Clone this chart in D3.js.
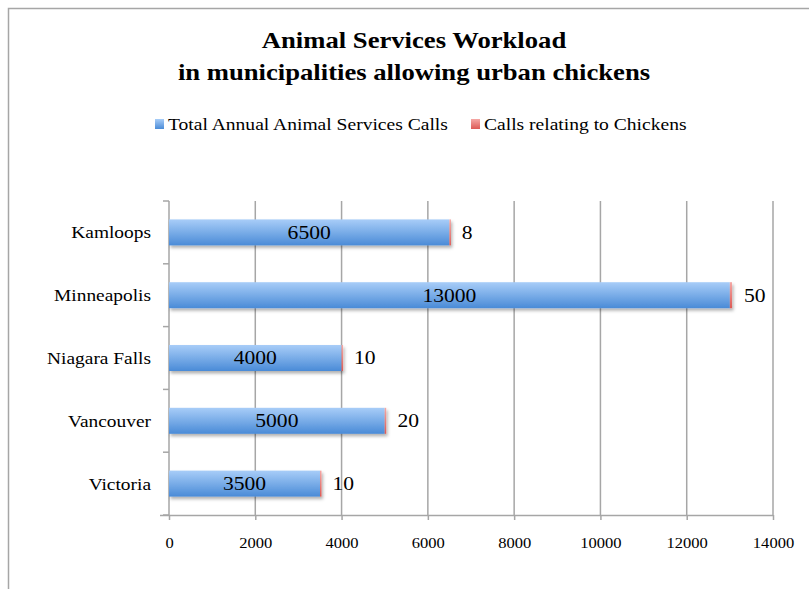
<!DOCTYPE html>
<html><head><meta charset="utf-8">
<script src="https://cdn.jsdelivr.net/npm/d3@7"></script>
<style>
html,body{margin:0;padding:0;background:#fff;}
svg{display:block;}
</style></head>
<body>
<script>
const categories = ["Kamloops","Minneapolis","Niagara Falls","Vancouver","Victoria"];
const totalCalls = [6500,13000,4000,5000,3500];
const chickenCalls = [8,50,10,20,10];
const xTicks = [0,2000,4000,6000,8000,10000,12000,14000];
const seriesNames = ["Total Annual Animal Services Calls","Calls relating to Chickens"];
const titleLines = ["Animal Services Workload","in municipalities allowing urban chickens"];

const W=809,H=589;
const svg=d3.select("body").append("svg").attr("width",W).attr("height",H);
const defs=svg.append("defs");
const gb=defs.append("linearGradient").attr("id","gBlue").attr("x1",0).attr("y1",0).attr("x2",0).attr("y2",1);
gb.append("stop").attr("offset","0%").attr("stop-color","#a8cdf8");
gb.append("stop").attr("offset","100%").attr("stop-color","#4a8bd7");
const gr=defs.append("linearGradient").attr("id","gRed").attr("x1",0).attr("y1",0).attr("x2",0).attr("y2",1);
gr.append("stop").attr("offset","0%").attr("stop-color","#f5a8a5");
gr.append("stop").attr("offset","100%").attr("stop-color","#dd5a55");
const f=defs.append("filter").attr("id","shadow").attr("x","-10%").attr("y","-30%").attr("width","130%").attr("height","180%");
f.append("feDropShadow").attr("dx",1.5).attr("dy",2.5).attr("stdDeviation",1.8).attr("flood-color","#000").attr("flood-opacity",0.3);

// stretch text horizontally to mimic the wider original face
function stretch(sel,k){
  sel.each(function(){
    const w=this.getComputedTextLength();
    d3.select(this).attr("textLength",w*k).attr("lengthAdjust","spacingAndGlyphs");
  });
}

// frame
svg.append("path").attr("d",`M8.5,${H} V8.5 H${W}`).attr("fill","none").attr("stroke","#a6a6a6").attr("stroke-width",1.5);

const serif="'Liberation Serif', 'DejaVu Serif', serif";

// title
const tt=svg.selectAll("text.title").data(titleLines).join("text").attr("class","title")
  .attr("x",414).attr("y",(d,i)=>48+i*32).attr("text-anchor","middle")
  .attr("font-family",serif).attr("font-weight","bold").attr("font-size",24).attr("fill","#000").text(d=>d);
stretch(tt,1.11);

const x=d3.scaleLinear().domain([0,14000]).range([169,773]);
const y=d3.scaleBand().domain(categories).range([201,515]).paddingInner(0.586).paddingOuter(0.293);

// gridlines
svg.append("g").selectAll("line").data(xTicks.slice(1)).join("line")
  .attr("x1",d=>x(d)).attr("x2",d=>x(d)).attr("y1",201).attr("y2",515)
  .attr("stroke","#a6a6a6").attr("stroke-width",1.5);

// x axis
const xa=svg.append("g").attr("transform","translate(0,515)").call(d3.axisBottom(x).tickValues(xTicks).tickSize(5).tickPadding(18).tickFormat(d3.format("d")));
xa.select(".domain").attr("d","M160,0.5H773").attr("stroke","#a6a6a6").attr("stroke-width",1.5);
xa.selectAll(".tick line").attr("stroke","#a6a6a6").attr("stroke-width",1.5);
xa.selectAll("text").attr("font-family",serif).attr("font-size",14).attr("fill","#000");
stretch(xa.selectAll("text"),1.18);

// y axis
const bandEdges=categories.map(c=>y(c)-y.step()*y.paddingInner()/2).concat([515]);
const ya=svg.append("g");
ya.append("line").attr("x1",169).attr("x2",169).attr("y1",201).attr("y2",515).attr("stroke","#a6a6a6").attr("stroke-width",1.5);
ya.selectAll("line.t").data(bandEdges).join("line").attr("class","t")
  .attr("x1",163).attr("x2",169).attr("y1",d=>d).attr("y2",d=>d).attr("stroke","#a6a6a6").attr("stroke-width",1.5);
const cl=ya.selectAll("text").data(categories).join("text")
  .attr("x",151).attr("y",d=>y(d)+y.bandwidth()/2).attr("dy","0.35em").attr("text-anchor","end")
  .attr("font-family",serif).attr("font-size",17).attr("fill","#000").text(d=>d);
stretch(cl,1.14);

// bars
const rows=categories.map((c,i)=>({c,t:totalCalls[i],k:chickenCalls[i]}));
const bg=svg.append("g").attr("filter","url(#shadow)");
bg.selectAll("rect.b").data(rows).join("rect").attr("class","b")
  .attr("x",x(0)).attr("y",d=>y(d.c)).attr("width",d=>x(d.t)-x(0)).attr("height",y.bandwidth()).attr("fill","url(#gBlue)");
bg.selectAll("rect.r").data(rows).join("rect").attr("class","r")
  .attr("x",d=>x(d.t)).attr("y",d=>y(d.c)).attr("width",d=>Math.max(1.5,x(d.t+d.k)-x(d.t))).attr("height",y.bandwidth()).attr("fill","url(#gRed)");

const vl=svg.selectAll("text.v").data(rows).join("text").attr("class","v")
  .attr("x",d=>(x(0)+x(d.t))/2).attr("y",d=>y(d.c)+y.bandwidth()/2).attr("dy","0.35em").attr("text-anchor","middle")
  .attr("font-family",serif).attr("font-size",18).attr("fill","#000").text(d=>d.t);
stretch(vl,1.2);
const kl=svg.selectAll("text.k").data(rows).join("text").attr("class","k")
  .attr("x",d=>x(d.t+d.k)+12).attr("y",d=>y(d.c)+y.bandwidth()/2).attr("dy","0.35em").attr("text-anchor","start")
  .attr("font-family",serif).attr("font-size",18).attr("fill","#000").text(d=>d.k);
stretch(kl,1.2);

// legend
const leg=svg.append("g");
const legX=[155,471];
const fills=["url(#gBlue)","url(#gRed)"];
seriesNames.forEach((n,i)=>{
  leg.append("rect").attr("x",legX[i]).attr("y",119).attr("width",9).attr("height",10).attr("fill",fills[i]);
  const t=leg.append("text").attr("x",legX[i]+13).attr("y",130).attr("font-family",serif).attr("font-size",17).attr("fill","#000").text(n);
  stretch(t,1.15);
});
</script>
</body></html>
